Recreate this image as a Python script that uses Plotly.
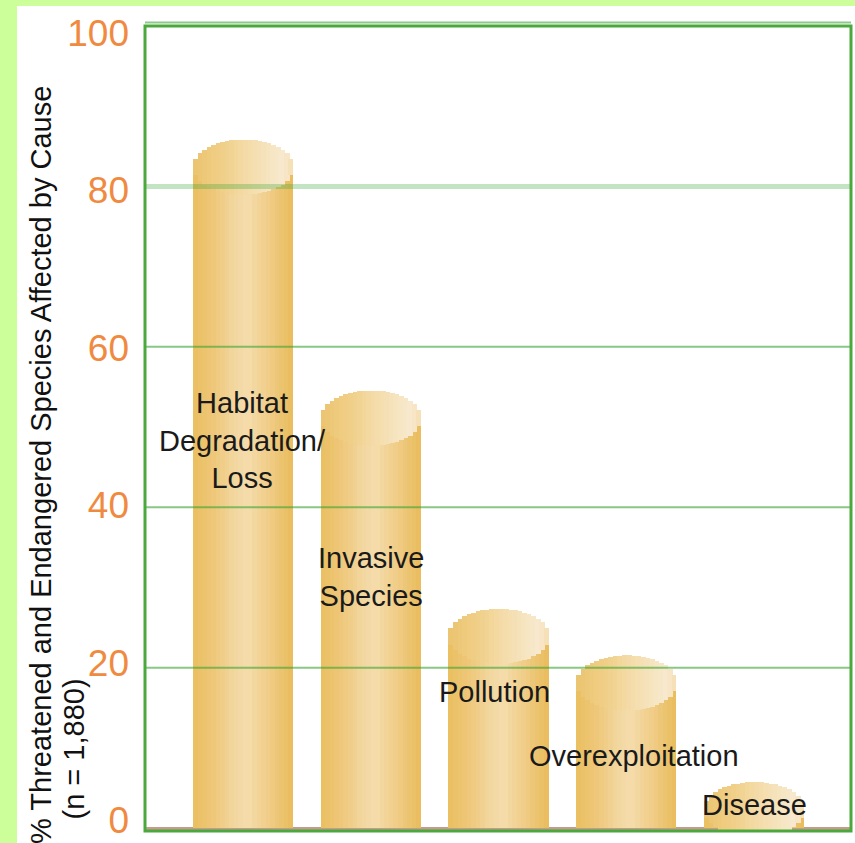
import plotly.graph_objects as go

# ---------------- data ----------------
causes = ["Habitat Degradation/Loss", "Invasive Species", "Pollution",
          "Overexploitation", "Disease"]
values = [82.4, 51.1, 23.9, 18.1, 2.3]
label_texts = ["Habitat<br>Degradation/<br>Loss", "Invasive<br>Species",
               "Pollution", "Overexploitation", "Disease"]
y_ticks = [0, 20, 40, 60, 80, 100]
y_title = "% Threatened and Endangered Species Affected by Cause"
n_note = "(n = 1,880)"

# ---------------- styling ----------------
label_y = [48.3, 31.3, 17.0, 9.0, 2.9]      # label anchor heights (data units)
label_dx = [0.0, 0.0, -0.03, 0.06, 0.0]     # small horizontal nudges
BAR_W = 0.783
CAP_RY = 3.43                                # half-height of cylinder cap
N = 22                                       # gradient strips per bar

body_stops = [(0.0, "#eabf60"), (0.2, "#eec779"), (0.42, "#f3d7a0"),
              (0.55, "#f4dcab"), (0.75, "#f0cd88"), (1.0, "#e9bc5c")]
cap_stops = [(0.0, "#ecc470"), (0.3, "#f0cf88"), (0.5, "#f3d9a3"),
             (0.72, "#f6e3bc"), (0.9, "#f8e9cf"), (1.0, "#f4ddb0")]


def hex2rgb(h):
    h = h.lstrip("#")
    return [int(h[i:i + 2], 16) for i in (0, 2, 4)]


def grad(stops, t):
    for (t0, c0), (t1, c1) in zip(stops[:-1], stops[1:]):
        if t0 <= t <= t1:
            f = (t - t0) / (t1 - t0) if t1 > t0 else 0
            a, b = hex2rgb(c0), hex2rgb(c1)
            return "rgb(%d,%d,%d)" % tuple(round(a[k] + (b[k] - a[k]) * f) for k in range(3))
    return stops[-1][1]


fig = go.Figure()
sw = BAR_W / N
# cylinder bodies
for i in range(N):
    t = (i + 0.5) / N
    w = sw * (1.25 if i < N - 1 else 1.0)
    fig.add_trace(go.Bar(
        x=causes, y=values, base=0, width=w, offset=-BAR_W / 2 + i * sw,
        marker=dict(color=grad(body_stops, t), line=dict(width=0)),
        hoverinfo="skip", showlegend=False))
# cylinder caps (ellipses built from strips)
for i in range(N):
    t = (i + 0.5) / N
    u = 2 * t - 1
    s = (1 - u * u) ** 0.5
    w = sw * (1.25 if i < N - 1 else 1.0)
    fig.add_trace(go.Bar(
        x=causes, y=[2 * CAP_RY * s] * len(values),
        base=[v - CAP_RY * s for v in values],
        width=w, offset=-BAR_W / 2 + i * sw,
        marker=dict(color=grad(cap_stops, t), line=dict(width=0)),
        hoverinfo="skip", showlegend=False))
# empty trace that carries the tick-label axis
fig.add_trace(go.Scatter(x=[], y=[], yaxis="y2", showlegend=False, hoverinfo="skip"))

shapes = []
# white panel over the light green page
shapes.append(dict(type="rect", xref="paper", yref="paper",
                   x0=(17 - 145) / 706, x1=1.02, y0=-0.03, y1=(831 - 6) / 805,
                   fillcolor="white", line=dict(width=0), layer="below"))
# gridlines drawn over the bars
for v in y_ticks[1:-1]:
    if v == 80:
        ln = dict(color="rgba(52,165,52,0.30)", width=5)
    else:
        ln = dict(color="rgba(57,163,50,0.60)", width=2)
    shapes.append(dict(type="line", xref="paper", yref="y", x0=0, x1=1,
                       y0=v, y1=v, line=ln, layer="above"))
# light line just above the top border
shapes.append(dict(type="line", xref="paper", yref="paper", x0=0, x1=1,
                   y0=1 + 3.5 / 805, y1=1 + 3.5 / 805,
                   line=dict(color="#8cc98a", width=2), layer="above"))
# plot frame
shapes.append(dict(type="rect", xref="paper", yref="paper", x0=0, x1=1, y0=0, y1=1,
                   line=dict(color="#4aa83c", width=3), layer="above"))

annotations = []
for k, (txt, ly) in enumerate(zip(label_texts, label_y)):
    annotations.append(dict(x=k + label_dx[k], y=ly, xref="x", yref="y", text=txt,
                            showarrow=False, align="center",
                            font=dict(family="Liberation Sans", size=29, color="#1a1a1a")))
annotations.append(dict(x=(41 - 145) / 706, y=(831 - 846) / 805, xref="paper", yref="paper",
                        text=y_title, textangle=-90, showarrow=False,
                        xanchor="center", yanchor="bottom",
                        font=dict(family="Liberation Sans", size=29, color="#111111")))
annotations.append(dict(x=(73 - 145) / 706, y=(831 - 822) / 805, xref="paper", yref="paper",
                        text=n_note, textangle=-90, showarrow=False,
                        xanchor="center", yanchor="bottom",
                        font=dict(family="Liberation Sans", size=29, color="#111111")))

fig.update_layout(
    width=855, height=843,
    margin=dict(l=145, r=4, t=26, b=12, autoexpand=False),
    paper_bgcolor="#ccff99", plot_bgcolor="white",
    barmode="overlay", bargap=0,
    showlegend=False,
    shapes=shapes, annotations=annotations,
    xaxis=dict(range=[-0.767, 4.759], showticklabels=False, showgrid=False,
               zeroline=False, showline=False, fixedrange=True, automargin=False),
    yaxis=dict(range=[-0.37, 100], showticklabels=False, showgrid=False,
               zeroline=True, zerolinecolor="#c49c8c", zerolinewidth=3,
               ticks="", showline=False, automargin=False, fixedrange=True),
    # tick-label axis: labels sit on a slightly compressed scale, as in the original
    yaxis2=dict(overlaying="y", side="left", anchor="x", range=[-1.40, 100.89],
                tickvals=y_ticks, showgrid=False, zeroline=False, ticks="",
                ticklabelstandoff=15, showline=False, automargin=False,
                ticklabeloverflow="allow", fixedrange=True,
                tickfont=dict(family="Liberation Sans", size=37, color="#f08a40")),
)

fig.write_html("out.html", config={"displayModeBar": False},
               post_script="document.body.style.margin='0';"
                           "document.body.style.overflow='hidden';")
